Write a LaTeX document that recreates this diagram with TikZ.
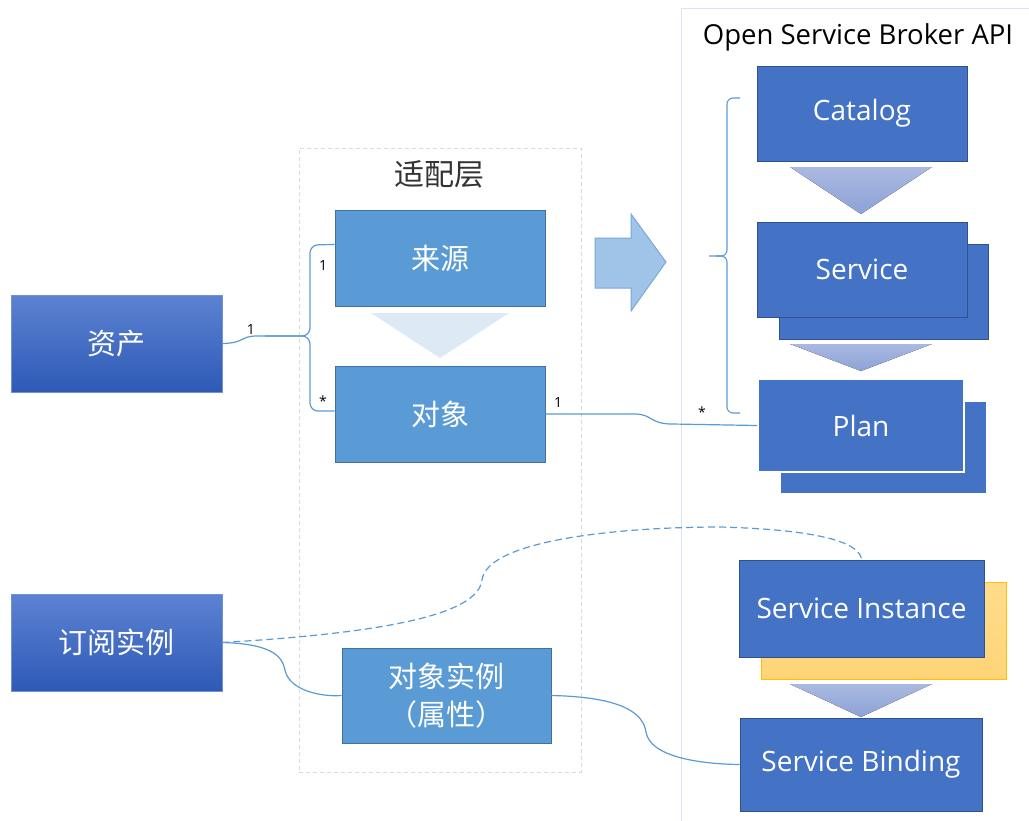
\documentclass[tikz,border=0pt]{standalone}
\usepackage{fontspec}
\setmainfont{Open Sans}
\newfontfamily\cjk{Noto Sans CJK SC}
\usetikzlibrary{calc}
\definecolor{lblue}{RGB}{91,155,213}
\definecolor{lblueB}{RGB}{65,113,156}
\definecolor{dblue}{RGB}{68,114,196}
\definecolor{dblueB}{RGB}{47,82,143}
\definecolor{gtop}{RGB}{92,130,210}
\definecolor{gbot}{RGB}{46,90,182}
\definecolor{gB}{RGB}{110,145,215}
\definecolor{conncol}{RGB}{91,155,213}
\definecolor{framecol}{RGB}{218,227,243}
\definecolor{dashcol}{RGB}{205,220,238}
\definecolor{tritop}{RGB}{170,185,225}
\definecolor{tribot}{RGB}{140,162,215}
\definecolor{trilight}{RGB}{221,234,246}
\definecolor{arrowfill}{RGB}{160,195,232}
\definecolor{arrowB}{RGB}{120,168,220}
\definecolor{ytop}{RGB}{255,220,140}
\definecolor{ybot}{RGB}{255,212,120}
\definecolor{yB}{RGB}{255,192,0}
\begin{document}
\begin{tikzpicture}[x=1pt,y=-1pt,
  enfont/.style={font=\fontsize{28}{32}\selectfont},
  cnfont/.style={font=\cjk\fontsize{29}{38}\selectfont},
  lbox/.style={rectangle, inner sep=0pt, fill=lblue, draw=lblueB, line width=1pt, text=white, cnfont, align=center},
  dbox/.style={rectangle, inner sep=0pt, fill=dblue, draw=dblueB, line width=1pt, text=white, enfont},
  gbox/.style={rectangle, inner sep=0pt, top color=gtop, bottom color=gbot, draw=gB, line width=1pt, text=white, cnfont},
  ybox/.style={rectangle, inner sep=0pt, top color=ytop, bottom color=ybot, draw=yB, line width=1pt},
  conn/.style={draw=conncol, line width=1.2pt},
  mult/.style={font=\fontsize{14}{16}\selectfont, text=black, inner sep=0pt},
  tri/.style={top color=tritop, bottom color=tribot, draw=none}
]
\useasboundingbox (0,0) rectangle (1029,820);
\fill[white] (0,0) rectangle (1029,820);

% Open Service Broker API frame
\draw[framecol, line width=1pt] (1035,8) -- (681,8) -- (681,825);
\node[font=\fontsize{27.5}{30}\selectfont, text=black] (osbtitle) at (858,37) {Open Service Broker API};

% adapter layer
\node[rectangle, draw=dashcol, dashed, dash pattern=on 4pt off 3pt, line width=1pt, minimum width=282pt, minimum height=624pt, inner sep=0pt] (adapter) at (440,460) {};
\node[font=\cjk\fontsize{30}{34}\selectfont, text=black!80] (adaptertitle) at (439,174) {适配层};

% left boxes
\node[gbox, minimum width=211pt, minimum height=97pt] (zichan) at (116.5,343.5) {资产};
\node[gbox, minimum width=211pt, minimum height=97pt] (dingyue) at (116.5,642.5) {订阅实例};

% adapter boxes
\node[lbox, minimum width=210pt, minimum height=96pt] (laiyuan) at (440,258) {来源};
\node[lbox, minimum width=210pt, minimum height=96pt] (duixiang) at (440,414) {对象};
\node[lbox, minimum width=209pt, minimum height=95pt] (shili) at (446.5,695.5) {对象实例\\（属性）};
\fill[trilight] (371,313) -- (509,313) -- (440,358) -- cycle;

% block arrow
\draw[fill=arrowfill, draw=arrowB, line width=1pt] (595,238) -- (631,238) -- (631,214) -- (666,262) -- (631,311) -- (631,288) -- (595,288) -- cycle;

% OSB boxes
\node[dbox, minimum width=210pt, minimum height=95pt] (catalog) at (862,113.5) {\raisebox{-2pt}{Catalog}};
\fill[tri] (790,167) -- (932,167) -- (861,214) -- cycle;
\node[dbox, minimum width=209pt, minimum height=95pt] (serviceback) at (883.5,291.5) {};
\node[dbox, minimum width=210pt, minimum height=95pt] (service) at (862,269.5) {Service};
\fill[tri] (790,344) -- (932,344) -- (861,371) -- cycle;
\node[dbox, draw=white, minimum width=206pt, minimum height=92pt] (planback) at (883,447) {};
\node[dbox, draw=white, line width=2pt, minimum width=206pt, minimum height=93pt] (plan) at (861,425.5) {Plan};

\node[ybox, minimum width=245pt, minimum height=97pt] (instanceback) at (883.5,630.5) {};
\node[dbox, minimum width=245pt, minimum height=97pt] (instance) at (861.5,608.5) {Service Instance};
\fill[tri] (790,684) -- (932,684) -- (861,717) -- cycle;
\node[dbox, minimum width=242pt, minimum height=93pt] (binding) at (861,764.5) {\raisebox{-2pt}{Service Binding}};

% brace
\draw[conn, line width=1.1pt, rounded corners=6pt] (740,98) -- (727,98) -- (727,256) -- (709,256);
\draw[conn, line width=1.1pt, rounded corners=6pt] (740,413) -- (727,413) -- (727,256) -- (716,256);

% connectors
\draw[conn, rounded corners=8pt] (zichan.east) .. controls (245,343) and (240,336) .. (265,336) -- (310,336) -- (310,245) -- ($(laiyuan.north west)!0.36!(laiyuan.south west)$);
\draw[conn, rounded corners=8pt] (265,336) -- (310,336) -- (310,411) -- ($(duixiang.north west)!0.47!(duixiang.south west)$);
\draw[conn] (duixiang.east) -- (635,414) .. controls (652,414) and (650,424) .. (672,424) -- (plan.west);
\draw[conn, dashed, dash pattern=on 7pt off 4pt] (dingyue.east) .. controls (400,632) and (478,612) .. (482,580) .. controls (487,540) and (620,527) .. (720,527) .. controls (830,530) and (860,545) .. (instance.north);
\draw[conn] (dingyue.east) .. controls (270,644) and (282,655) .. (285,670) .. controls (289,690) and (320,697) .. (shili.west);
\draw[conn] (shili.east) .. controls (620,697) and (643,712) .. (646,732) .. controls (650,757) and (700,764) .. (binding.west);

% multiplicities
\node[mult] (m1) at (251,329) {1};
\node[mult] (m2) at (323,265) {1};
\node[mult] (m3) at (323,401) {*};
\node[mult] (m4) at (558,402) {1};
\node[mult] (m5) at (702,412) {*};
\end{tikzpicture}
\end{document}
